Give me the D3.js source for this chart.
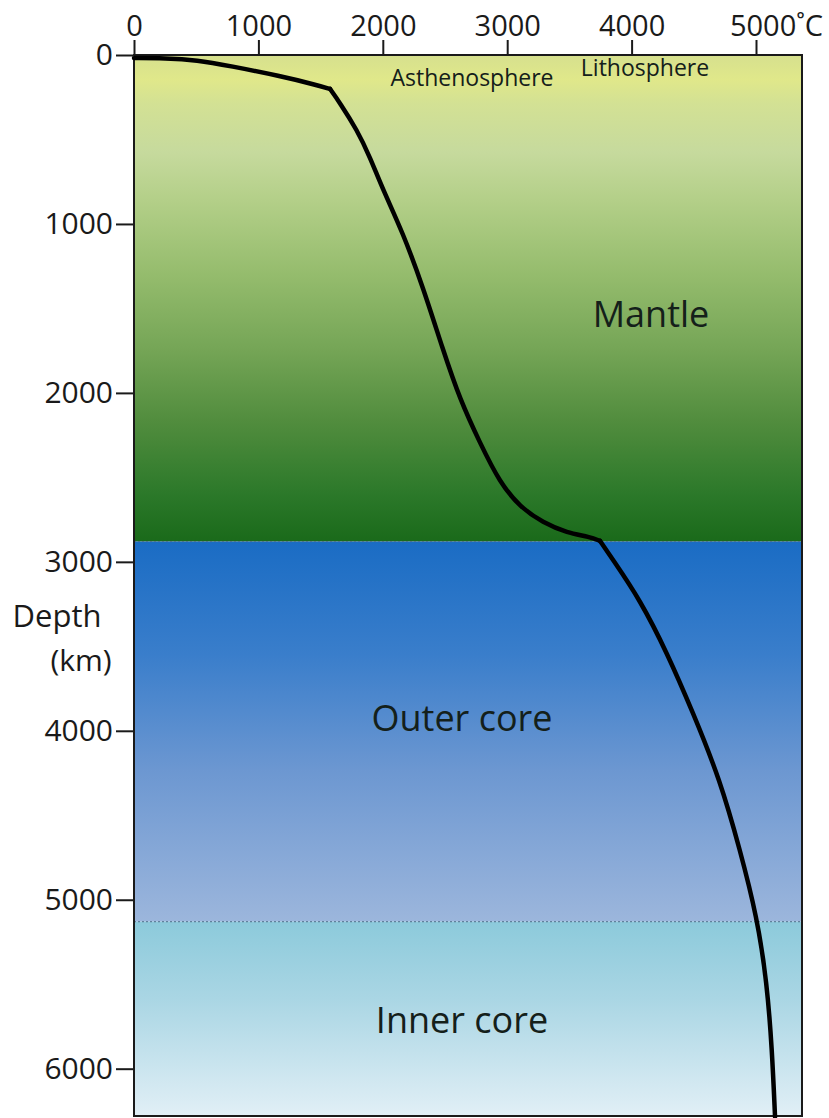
<!DOCTYPE html>
<html><head><meta charset="utf-8">
<script src="https://cdn.jsdelivr.net/npm/d3@7"></script>
<style>
html,body{margin:0;padding:0;background:#fff;}
svg{display:block;}
text{font-family:"Open Sans",sans-serif;}
</style></head>
<body>
<svg id="c" width="829" height="1118"></svg>
<script>
// ---- data ----
const tempTicks = [0, 1000, 2000, 3000, 4000, 5000];
const tempTickLabels = ["0", "1000", "2000", "3000", "4000", "5000˚C"];
const depthTicks = [0, 1000, 2000, 3000, 4000, 5000, 6000];
const depthMax = 6280;
// geotherm: temperature (°C) vs depth (km)
const geoTemp  = [0, 250, 506, 772, 1174, 1471, 1576, 1656, 1793, 1897, 2002, 2162, 2323, 2484, 2621, 2781, 2942, 3103, 3288, 3481, 3666, 3746, 3850, 4068, 4285, 4494, 4711, 4871, 5008, 5088, 5129, 5153];
const geoDepth = [18, 18, 30, 65, 124, 178, 201, 284, 444, 604, 799, 1053, 1373, 1746, 2041, 2296, 2533, 2675, 2769, 2828, 2852, 2876, 2988, 3225, 3538, 3893, 4290, 4704, 5101, 5491, 5888, 6284];
const kinkIndex = [6, 21]; // base of lithosphere, core-mantle boundary
const layerNames  = ["Mantle", "Outer core", "Inner core"];
const layerTop    = [0, 2880, 5130];
const layerBottom = [2880, 5130, depthMax];
const boundaryDepths = [2880, 5130];

// ---- scales ----
const pL = 134, pR = 802, pT = 55, pB = 1116;
const x = d3.scaleLinear().domain([0, 5000]).range([134, 756]);
const y = d3.scaleLinear().domain([0, depthMax]).range([pT, pB]);

const svg = d3.select("#c");
const defs = svg.append("defs");

const grads = [
  [[0,"#d6e08e"],[0.05,"#e0e88a"],[0.1,"#d3e194"],[0.2,"#c6da9d"],[0.3,"#b3cf88"],[0.45,"#95bc6d"],[0.6,"#76a657"],[0.75,"#528d3e"],[0.9,"#2c792a"],[1,"#1a6a1a"]],
  [[0,"#1a6cc4"],[0.3,"#3a7ecb"],[0.6,"#6c97d1"],[1,"#9cb6dc"]],
  [[0,"#8ccadb"],[0.4,"#aad6e4"],[1,"#e1eff6"]]
];
grads.forEach((stops, i) => {
  const g = defs.append("linearGradient").attr("id", "g" + i)
    .attr("x1", 0).attr("y1", 0).attr("x2", 0).attr("y2", 1);
  stops.forEach(s => g.append("stop").attr("offset", s[0]).attr("stop-color", s[1]));
});

// layers
svg.append("g").selectAll("rect").data(layerNames).join("rect")
  .attr("x", pL).attr("width", pR - pL)
  .attr("y", (d, i) => y(layerTop[i]))
  .attr("height", (d, i) => y(layerBottom[i]) - y(layerTop[i]))
  .attr("fill", (d, i) => `url(#g${i})`);

// dotted boundaries
svg.append("g").selectAll("line").data(boundaryDepths).join("line")
  .attr("x1", pL).attr("x2", pR)
  .attr("y1", d => y(d)).attr("y2", d => y(d))
  .attr("stroke", "#4f6f8c").attr("stroke-width", 1).attr("stroke-dasharray", "2,2");

// frame
svg.append("rect").attr("x", pL).attr("y", pT).attr("width", pR - pL).attr("height", pB - pT)
  .attr("fill", "none").attr("stroke", "#1a1a1a").attr("stroke-width", 2);

// geotherm curve (smoothed segments between kinks)
const pts = geoTemp.map((t, i) => [t, geoDepth[i]]);
const cuts = [0, ...kinkIndex, pts.length - 1];
const segs = d3.pairs(cuts).map(([a, b]) => pts.slice(a, b + 1));
const line = d3.line().x(d => x(d[0])).y(d => y(d[1])).curve(d3.curveBasis);
svg.append("g").selectAll("path").data(segs).join("path")
  .attr("fill", "none").attr("stroke", "#000").attr("stroke-width", 4.5)
  .attr("stroke-linejoin", "round").attr("stroke-linecap", "round")
  .attr("d", line);

// axes
const topAxis = svg.append("g").attr("transform", `translate(0,${pT})`)
  .call(d3.axisTop(x).tickValues(tempTicks).tickFormat((d, i) => tempTickLabels[i]).tickSize(15).tickPadding(4));
topAxis.select(".domain").remove();
topAxis.selectAll("line").attr("stroke", "#1a1a1a").attr("stroke-width", 2);
topAxis.selectAll("text").attr("font-size", 29).attr("fill", "#1a1a1a").attr("font-family", "Open Sans");
topAxis.selectAll(".tick").filter(d => d === 5000).select("text").attr("dx", 20);

const leftAxis = svg.append("g").attr("transform", `translate(${pL},0)`)
  .call(d3.axisLeft(y).tickValues(depthTicks).tickFormat(d3.format("d")).tickSize(18).tickPadding(3));
leftAxis.select(".domain").remove();
leftAxis.selectAll("line").attr("stroke", "#1a1a1a").attr("stroke-width", 2);
leftAxis.selectAll("text").attr("font-size", 30).attr("fill", "#1a1a1a").attr("font-family", "Open Sans");

// axis title
svg.append("text").attr("x", 57).attr("y", 627).attr("text-anchor", "middle")
  .attr("font-size", 31).attr("fill", "#1a1a1a").text("Depth");
svg.append("text").attr("x", 81).attr("y", 671).attr("text-anchor", "middle")
  .attr("font-size", 30).attr("fill", "#1a1a1a").text("(km)");

// region labels
const labels = [
  {t: "Asthenosphere", cx: 472, by: 86, fs: 23},
  {t: "Lithosphere", cx: 645, by: 76, fs: 23},
  {t: "Mantle", cx: 651, by: 327, fs: 36},
  {t: "Outer core", cx: 462, by: 731, fs: 36},
  {t: "Inner core", cx: 462, by: 1033, fs: 36}
];
svg.append("g").selectAll("text").data(labels).join("text")
  .attr("x", d => d.cx).attr("y", d => d.by).attr("text-anchor", "middle")
  .attr("font-size", d => d.fs).attr("fill", "#14201a").text(d => d.t);
</script>
</body></html>
